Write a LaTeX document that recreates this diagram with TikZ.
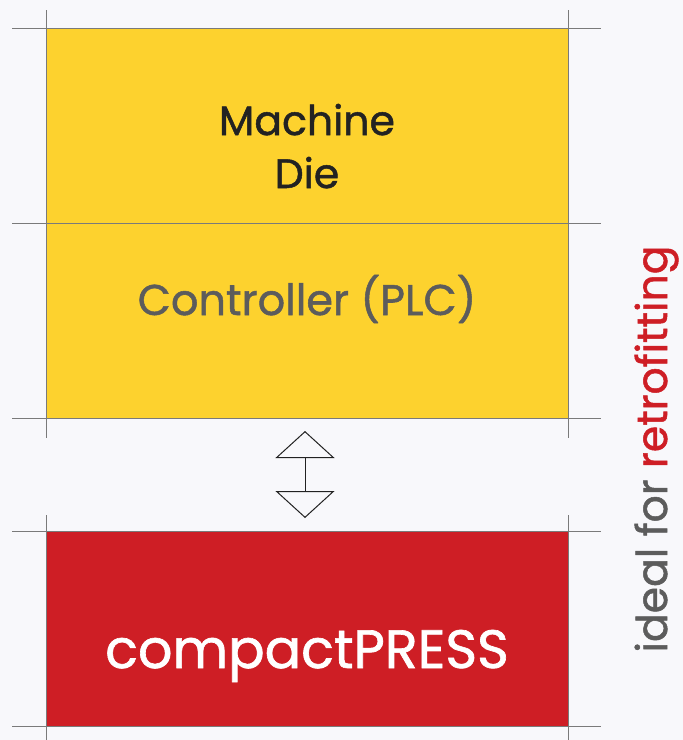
\documentclass[tikz,border=0pt]{standalone}
\usepackage{fontspec}
\setmainfont{Poppins}
\newfontfamily\medfont[FakeBold=1.2]{Poppins}
\usetikzlibrary{arrows.meta}
\definecolor{bgc}{HTML}{F8F8FB}
\definecolor{yel}{HTML}{FDD22E}
\definecolor{redc}{HTML}{CE1E25}
\definecolor{txtgray}{HTML}{5C5C5C}
\definecolor{linegray}{HTML}{7A7A7A}
\definecolor{txtblack}{HTML}{222222}
\tikzset{
  block/.style={draw=none, inner sep=0pt, outer sep=0pt, minimum width=522pt, minimum height=195pt},
  gridline/.style={draw=linegray, line width=1pt},
  label/.style={inner sep=0pt, anchor=base, font=\medfont},
  bidir/.style={draw=txtblack, line width=1pt, {Triangle[open, length=27pt, width=59pt]}-{Triangle[open, length=27pt, width=59pt]}},
}
\begin{document}
\begin{tikzpicture}[x=1pt,y=-1pt]
\useasboundingbox (0,0) rectangle (683,740);
\fill[bgc] (0,0) rectangle (683,740);
\node[block, fill=yel] (machine) at (307,125.5) {};
\node[block, fill=yel] (ctrl) at (307,320.5) {};
\node[block, fill=redc] (press) at (307,628.5) {};
\node[label, text=txtblack] (mtext) at (307,135) {\fontsize{41}{52}\selectfont Machine};
\node[label, text=txtblack] (dtext) at (307,188) {\fontsize{41}{52}\selectfont Die};
\node[label, text=txtgray] (ctext) at (307,315) {\fontsize{43}{52}\selectfont Controller (PLC)};
\node[label, text=white] (ptext) at (307,668) {\fontsize{54}{60}\selectfont compactPRESS};
% grid lines
\foreach \yy in {28,223,418,531,726} \draw[gridline] (12,\yy) -- (601,\yy);
\foreach \xx in {46,568} {
  \draw[gridline] (\xx,10) -- (\xx,438);
  \draw[gridline] (\xx,515) -- (\xx,740);
}
\coordinate (atop) at (305,431);
\coordinate (abot) at (305,518);
\draw[bidir] (atop) -- (abot);
\node[label, rotate=90] (side) at (667,449) {\fontsize{42.5}{48}\selectfont\textcolor{txtgray}{ideal for} \textcolor{redc}{retrofitting}};
\end{tikzpicture}
\end{document}
